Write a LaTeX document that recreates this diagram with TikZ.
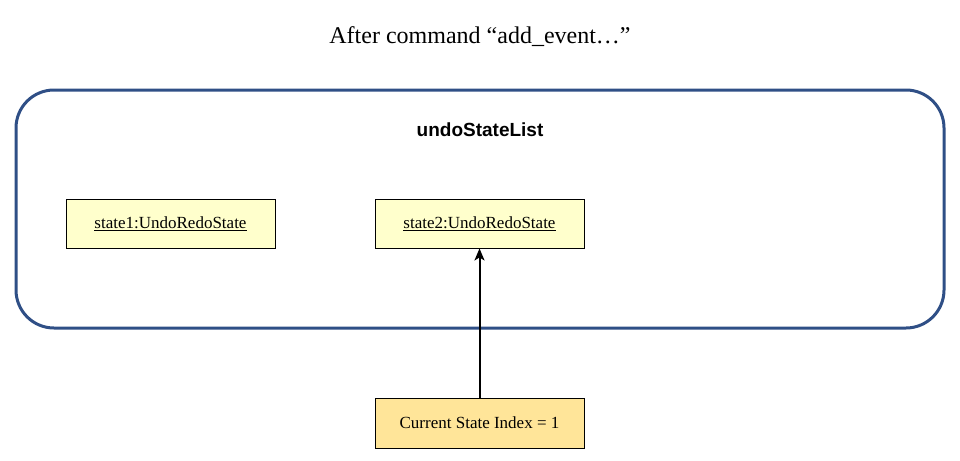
\documentclass[tikz,border=0pt]{standalone}
\usepackage{fontspec}
\setmainfont{Liberation Serif}
\newfontfamily\arialfont{Liberation Sans}
\usetikzlibrary{arrows.meta}
\definecolor{frameblue}{HTML}{2F4F86}
\definecolor{statefill}{HTML}{FFFFCC}
\definecolor{indexfill}{HTML}{FFE599}
\tikzset{
  statebox/.style={draw=black, fill=statefill, line width=0.9pt, minimum width=209pt, minimum height=49pt, inner sep=0pt, font=\fontsize{17}{20}\selectfont},
  indexbox/.style={draw=black, fill=indexfill, line width=0.9pt, minimum width=209pt, minimum height=50pt, inner sep=0pt, font=\fontsize{17}{20}\selectfont},
  frame/.style={draw=frameblue, line width=3pt, rounded corners=38pt}
}
\begin{document}
\begin{tikzpicture}[x=1pt,y=-1pt]
\useasboundingbox (0,0) rectangle (960,460);
\node (title) at (480,37) {\fontsize{24}{28}\selectfont After command “add\_event…”};
\draw[frame] (16,90) rectangle (944,328);
\node (listlabel) at (480,130) {\arialfont\bfseries\fontsize{19}{22}\selectfont undoStateList};
\node[statebox] (s1) at (170.5,223.5) {\underline{state1:UndoRedoState}};
\node[statebox] (s2) at (479.5,223.5) {\underline{state2:UndoRedoState}};
\node[indexbox] (idx) at (479.5,423) {Current State Index = 1};
\draw[-{Stealth[length=12pt,width=10pt,inset=3pt]}, line width=2pt] (idx.north) -- (s2.south);
\end{tikzpicture}
\end{document}
